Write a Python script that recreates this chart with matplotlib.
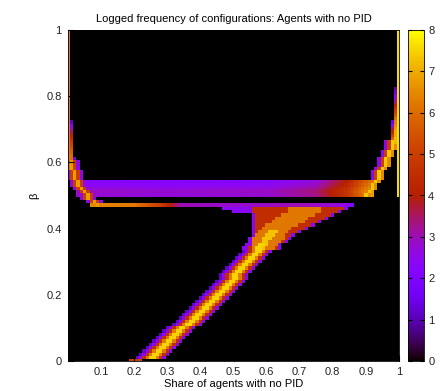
import numpy as np
import matplotlib
matplotlib.use("Agg")
import matplotlib.pyplot as plt
from matplotlib.colors import ListedColormap

plt.rcParams['font.family'] = ['Liberation Sans', 'DejaVu Sans']
plt.rcParams['font.size'] = 8

# 101 x 101 cells: share of agents with no PID (x) and beta (y), step 0.01
N = 101

# full columns at the borders: (column, first row, last row, value)
edge_cols = [(0, 58, 100, 6.3), (100, 50, 100, 7.6)]

# single columns next to the borders: (column, first row, values going up)
near_edge_cols = [
    (1, 61, [6.0, 6.0, 5.8, 5.5, 5.2, 5.0, 4.5, 4.2, 3.5, 3.0, 2.2, 1.2]),
    (2, 58, [2.6, 2.4, 2.2, 1.5]),
    (99, 66, [7.2, 7.2, 7.0, 7.0, 6.8, 6.5, 6.3, 6.0, 5.5, 5.0, 4.5, 4.0, 3.2, 2.5, 2.0, 1.5, 1.0]),
    (98, 66, [6.3, 5.8, 5.0, 4.2, 3.5, 2.5, 1.5]),
]

# left arm (beta -> centre share)
left_arm_y = [0.47, 0.48, 0.50, 0.52, 0.54, 0.55, 0.56, 0.58, 0.60]
left_arm_x = [0.09, 0.075, 0.055, 0.04, 0.028, 0.022, 0.018, 0.012, 0.01]
left_arm_profile = [2.5, 5.0, 6.8, 5.0, 2.5]

# right arm
right_arm_y = [0.50, 0.53, 0.55, 0.58, 0.61, 0.64, 0.66]
right_arm_x = [0.905, 0.92, 0.935, 0.95, 0.965, 0.975, 0.98]
right_arm_profile = [2.5, 5.0, 7.4, 6.5]

# upper band (rows 50..54), value along share
band_rows = [50, 51, 52, 53, 54]
band_row_shift = [0.3, 0.4, 0.2, -0.1, -0.3]
band_x = [0.03, 0.30, 0.60, 0.75, 0.84, 0.89, 0.92]
band_v = [2.5, 2.4, 2.5, 3.0, 4.3, 5.8, 6.5]

# lower line (row 47)
line_x = [0.07, 0.20, 0.28, 0.34, 0.50, 0.70, 0.83, 0.86]
line_v = [6.5, 6.2, 5.0, 3.0, 2.8, 3.0, 2.6, 2.0]

# diagonal ridge
diag_y = [0.00, 0.10, 0.20, 0.30, 0.36]
diag_x = [0.235, 0.345, 0.45, 0.54, 0.59]
diag_profile = [1.2, 2.5, 4.5, 6.3, 7.5, 7.5, 6.3, 4.5, 2.5]
bottom_row = (0.19, 0.22, 5.0)

# wedge between diagonal and lower line
wedge_y = [0.34, 0.36, 0.38, 0.40, 0.42, 0.44, 0.45, 0.46]
wedge_left = [0.53, 0.545, 0.555, 0.56, 0.56, 0.56, 0.50, 0.47]
wedge_right = [0.635, 0.655, 0.68, 0.72, 0.76, 0.80, 0.82, 0.84]
wedge_ridge = [0.58, 0.595, 0.61, 0.63, 0.66, 0.70, 0.72, 0.72]
wedge_yellow_top = 0.39


def put(z, j, i, v):
    if 0 <= i < N and 0 <= j < N:
        z[j, i] = max(z[j, i], v)


def paint_arm(z, ys, xs, profile, r0, r1):
    half = len(profile) // 2
    for j in range(r0, r1 + 1):
        c = int(round(np.interp(j / 100, ys, xs) * 100))
        for k, v in enumerate(profile):
            put(z, j, c - half + k, v)


z = np.zeros((N, N))
for col, r0, r1, v in edge_cols:
    z[r0:r1 + 1, col] = v
for col, r0, vals in near_edge_cols:
    for k, v in enumerate(vals):
        put(z, r0 + k, col, v)

paint_arm(z, left_arm_y, left_arm_x, left_arm_profile, 47, 60)
paint_arm(z, right_arm_y, right_arm_x, right_arm_profile, 50, 66)
paint_arm(z, diag_y, diag_x, diag_profile, 1, 35)

for j, s in zip(band_rows, band_row_shift):
    for i in range(3, 93):
        put(z, j, i, np.interp(i / 100, band_x, band_v) + s)

for i in range(7, 87):
    put(z, 47, i, np.interp(i / 100, line_x, line_v))

for i in range(int(bottom_row[0] * 100), int(bottom_row[1] * 100) + 1):
    put(z, 0, i, bottom_row[2])

for j in range(34, 47):
    y = j / 100
    lo = int(round(np.interp(y, wedge_y, wedge_left) * 100))
    hi = int(round(np.interp(y, wedge_y, wedge_right) * 100))
    rc = np.interp(y, wedge_y, wedge_ridge)
    for i in range(lo, hi + 1):
        d = abs(i / 100 - rc)
        if i == lo or i == hi or i / 100 < 0.555:
            v = 2.4
        elif d <= 0.015 and y <= wedge_yellow_top:
            v = 7.3
        elif d <= 0.05:
            v = 6.2
        else:
            v = 4.5
        put(z, j, i, v)

# gnuplot default palette (rgbformulae 7,5,15)
t = np.linspace(0, 1, 256)
rgb = np.stack([np.sqrt(t), t ** 3, np.clip(np.sin(2 * np.pi * t), 0, 1)], axis=1)
cmap = ListedColormap(rgb)

fig = plt.figure(figsize=(4.46, 3.91), dpi=100)
ax = fig.add_axes([0.1525, 0.0767, 0.7421, 0.8466])
cax = fig.add_axes([0.9148, 0.0767, 0.0359, 0.8466])

im = ax.imshow(z, origin='lower', cmap=cmap, vmin=0, vmax=8,
               extent=[-0.005, 1.005, -0.005, 1.005], aspect='auto',
               interpolation='nearest')
ax.set_xlim(0, 1)
ax.set_ylim(0, 1)
for sp in ax.spines.values():
    sp.set_linewidth(0.6)
ax.set_xticks(np.arange(1, 11) / 10)
ax.set_xticklabels(['0.1', '0.2', '0.3', '0.4', '0.5', '0.6', '0.7', '0.8', '0.9', '1'])
ax.set_yticks([0, 0.2, 0.4, 0.6, 0.8, 1])
ax.set_yticklabels(['0', '0.2', '0.4', '0.6', '0.8', '1'])
ax.tick_params(axis='x', direction='in', length=4, color='black', pad=4, labelcolor='#222222')
ax.tick_params(axis='y', direction='in', length=4, color='black', pad=4.5, labelcolor='#222222')
ax.set_title('Logged frequency of configurations: Agents with no PID', fontsize=8, pad=6)
ax.set_xlabel('Share of agents with no PID', labelpad=1.5)
ax.set_ylabel('β', labelpad=5)

cb = fig.colorbar(im, cax=cax, ticks=range(9))
cb.ax.tick_params(direction='in', length=3, pad=3, left=True, right=True, labelcolor='#222222')
cb.outline.set_linewidth(0.6)

fig.savefig('out.png', dpi=100)
